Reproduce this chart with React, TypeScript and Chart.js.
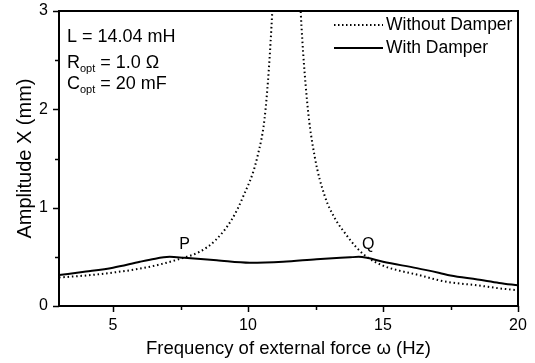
import React, { useEffect, useRef } from "react";
import { Chart, registerables } from "chart.js";

Chart.register(...registerables);

// Frequency (Hz) and amplitude (mm)
const freqWithout = [3.0, 4.0, 5.0, 6.0, 6.7, 7.6, 8.2, 8.8, 9.4, 9.8, 10.35, 10.65, 10.9, 11.05, 11.4, 11.8, 11.95, 12.2, 12.47, 12.84, 13.2, 13.65, 14.0, 14.4, 15.0, 15.6, 16.25, 17.1, 17.5, 18.5, 19.3, 20.0];
const ampWithout: (number | null)[] = [0.29, 0.31, 0.34, 0.38, 0.42, 0.49, 0.55, 0.67, 0.88, 1.1, 1.52, 2.0, 3.0, 4.0, null, 4.0, 3.0, 2.05, 1.52, 1.12, 0.9, 0.72, 0.6, 0.5, 0.41, 0.36, 0.32, 0.26, 0.24, 0.21, 0.18, 0.16];

const freqWith = [3.0, 4.0, 5.0, 6.0, 6.37, 7.1, 7.64, 8.84, 10.07, 11.3, 12.54, 13.78, 14.1, 14.4, 15.0, 16.25, 17.1, 17.5, 18.5, 19.3, 20.0];
const ampWith = [0.315, 0.35, 0.39, 0.45, 0.47, 0.5, 0.49, 0.465, 0.44, 0.45, 0.475, 0.495, 0.5, 0.49, 0.45, 0.385, 0.335, 0.31, 0.27, 0.235, 0.21];

const xTicks = [5, 7.5, 10, 12.5, 15, 17.5, 20];
const yTicks = [0, 0.5, 1, 1.5, 2, 2.5, 3];

const legendLabels = ["Without Damper", "With Damper"];
const pointLabels = [
  { text: "P", x: 7.65, y: 0.62 },
  { text: "Q", x: 14.45, y: 0.62 },
];

const FONT = "'Liberation Sans', Arial, sans-serif";

const overlayPlugin = {
  id: "overlay",
  afterDraw(chart: any) {
    const { ctx, chartArea } = chart;
    const { left, right, top, bottom } = chartArea;
    const xs = chart.scales.x;
    const ys = chart.scales.y;
    ctx.save();
    // frame
    ctx.strokeStyle = "#000";
    ctx.lineWidth = 2;
    ctx.strokeRect(left, top, right - left, bottom - top);
    // ticks
    ctx.lineWidth = 1.5;
    ctx.beginPath();
    xTicks.forEach((v) => {
      const px = Math.round(xs.getPixelForValue(v)) + 0.5;
      const len = v % 5 === 0 ? 6 : 4;
      ctx.moveTo(px, bottom);
      ctx.lineTo(px, bottom + len);
    });
    yTicks.forEach((v) => {
      const py = Math.round(ys.getPixelForValue(v)) + 0.5;
      const len = Number.isInteger(v) ? 6 : 4;
      ctx.moveTo(left, py);
      ctx.lineTo(left - len, py);
    });
    ctx.stroke();

    // annotation text
    ctx.fillStyle = "#000";
    ctx.textBaseline = "alphabetic";
    ctx.textAlign = "left";
    const ax = left + 8;
    const big = `18px ${FONT}`;
    const small = `11px ${FONT}`;
    ctx.font = big;
    ctx.fillText("L = 14.04 mH", ax, top + 31);
    const drawSub = (main: string, sub: string, rest: string, y: number) => {
      ctx.font = big;
      ctx.fillText(main, ax, y);
      let x = ax + ctx.measureText(main).width;
      ctx.font = small;
      ctx.fillText(sub, x, y + 4);
      x += ctx.measureText(sub).width;
      ctx.font = big;
      ctx.fillText(rest, x, y);
    };
    drawSub("R", "opt", " = 1.0 Ω", top + 57);
    drawSub("C", "opt", " = 20 mF", top + 78);

    // legend
    const lx0 = 334;
    const lx1 = 383;
    const ly = [top + 14, top + 37];
    ctx.lineWidth = 2;
    ctx.setLineDash([1.5, 2.5]);
    ctx.beginPath();
    ctx.moveTo(lx0, ly[0]);
    ctx.lineTo(lx1, ly[0]);
    ctx.stroke();
    ctx.setLineDash([]);
    ctx.beginPath();
    ctx.moveTo(lx0, ly[1]);
    ctx.lineTo(lx1, ly[1]);
    ctx.stroke();
    ctx.font = `17.5px ${FONT}`;
    ctx.textBaseline = "middle";
    ctx.fillText(legendLabels[0], lx1 + 3, ly[0]);
    ctx.fillText(legendLabels[1], lx1 + 3, ly[1]);

    // P, Q
    ctx.font = `16px ${FONT}`;
    ctx.textAlign = "center";
    ctx.textBaseline = "middle";
    pointLabels.forEach((p) => {
      ctx.fillText(p.text, xs.getPixelForValue(p.x), ys.getPixelForValue(p.y));
    });
    ctx.restore();
  },
};

export default function App() {
  const ref = useRef<HTMLCanvasElement>(null);
  useEffect(() => {
    document.body.style.margin = "0";
    const canvas = ref.current!;
    const chart = new Chart(canvas, {
      type: "line",
      data: {
        datasets: [
          {
            label: legendLabels[0],
            data: freqWithout.map((f, i) => ({ x: f, y: ampWithout[i] as any })),
            borderColor: "#000",
            borderWidth: 2,
            borderDash: [1.5, 2.8],
            pointRadius: 0,
            cubicInterpolationMode: "monotone",
            spanGaps: false,
            fill: false,
          },
          {
            label: legendLabels[1],
            data: freqWith.map((f, i) => ({ x: f, y: ampWith[i] })),
            borderColor: "#000",
            borderWidth: 2,
            pointRadius: 0,
            cubicInterpolationMode: "monotone",
            fill: false,
          },
        ],
      },
      options: {
        animation: false,
        responsive: false,
        devicePixelRatio: 1,
        layout: { padding: { top: 11, right: 17, left: 0, bottom: 0 } },
        plugins: { legend: { display: false }, tooltip: { enabled: false } },
        scales: {
          x: {
            type: "linear",
            min: 3,
            max: 20,
            afterBuildTicks: (s: any) => {
              s.ticks = xTicks.map((v) => ({ value: v }));
            },
            afterFit: (s: any) => {
              s.height = 57;
              s.paddingLeft = 0;
              s.paddingRight = 0;
            },
            ticks: {
              autoSkip: false,
              maxRotation: 0,
              padding: 10,
              color: "#000",
              font: { family: FONT, size: 16 },
              callback: (v: any) => (Number(v) % 5 === 0 ? String(v) : ""),
            },
            grid: { display: false, drawTicks: false },
            border: { display: false },
            title: {
              display: true,
              text: "Frequency of external force ω (Hz)",
              color: "#000",
              font: { family: FONT, size: 18.5 },
              padding: { top: 0, bottom: 3 },
            },
          },
          y: {
            type: "linear",
            min: 0,
            max: 3,
            afterBuildTicks: (s: any) => {
              s.ticks = yTicks.map((v) => ({ value: v }));
            },
            afterFit: (s: any) => {
              s.width = 59;
              s.paddingTop = 0;
              s.paddingBottom = 0;
            },
            ticks: {
              autoSkip: false,
              padding: 11,
              color: "#000",
              font: { family: FONT, size: 16 },
              callback: (v: any) => (Number.isInteger(Number(v)) ? String(v) : ""),
            },
            grid: { display: false, drawTicks: false },
            border: { display: false },
            title: {
              display: true,
              text: "Amplitude X (mm)",
              color: "#000",
              font: { family: FONT, size: 20 },
              padding: { top: 13, bottom: 0 },
            },
          },
        },
      },
      plugins: [overlayPlugin],
    });
    return () => chart.destroy();
  }, []);
  return (
    <div style={{ width: 535, height: 363 }}>
      <canvas ref={ref} width={535} height={363} style={{ width: 535, height: 363, display: "block" }} />
    </div>
  );
}
